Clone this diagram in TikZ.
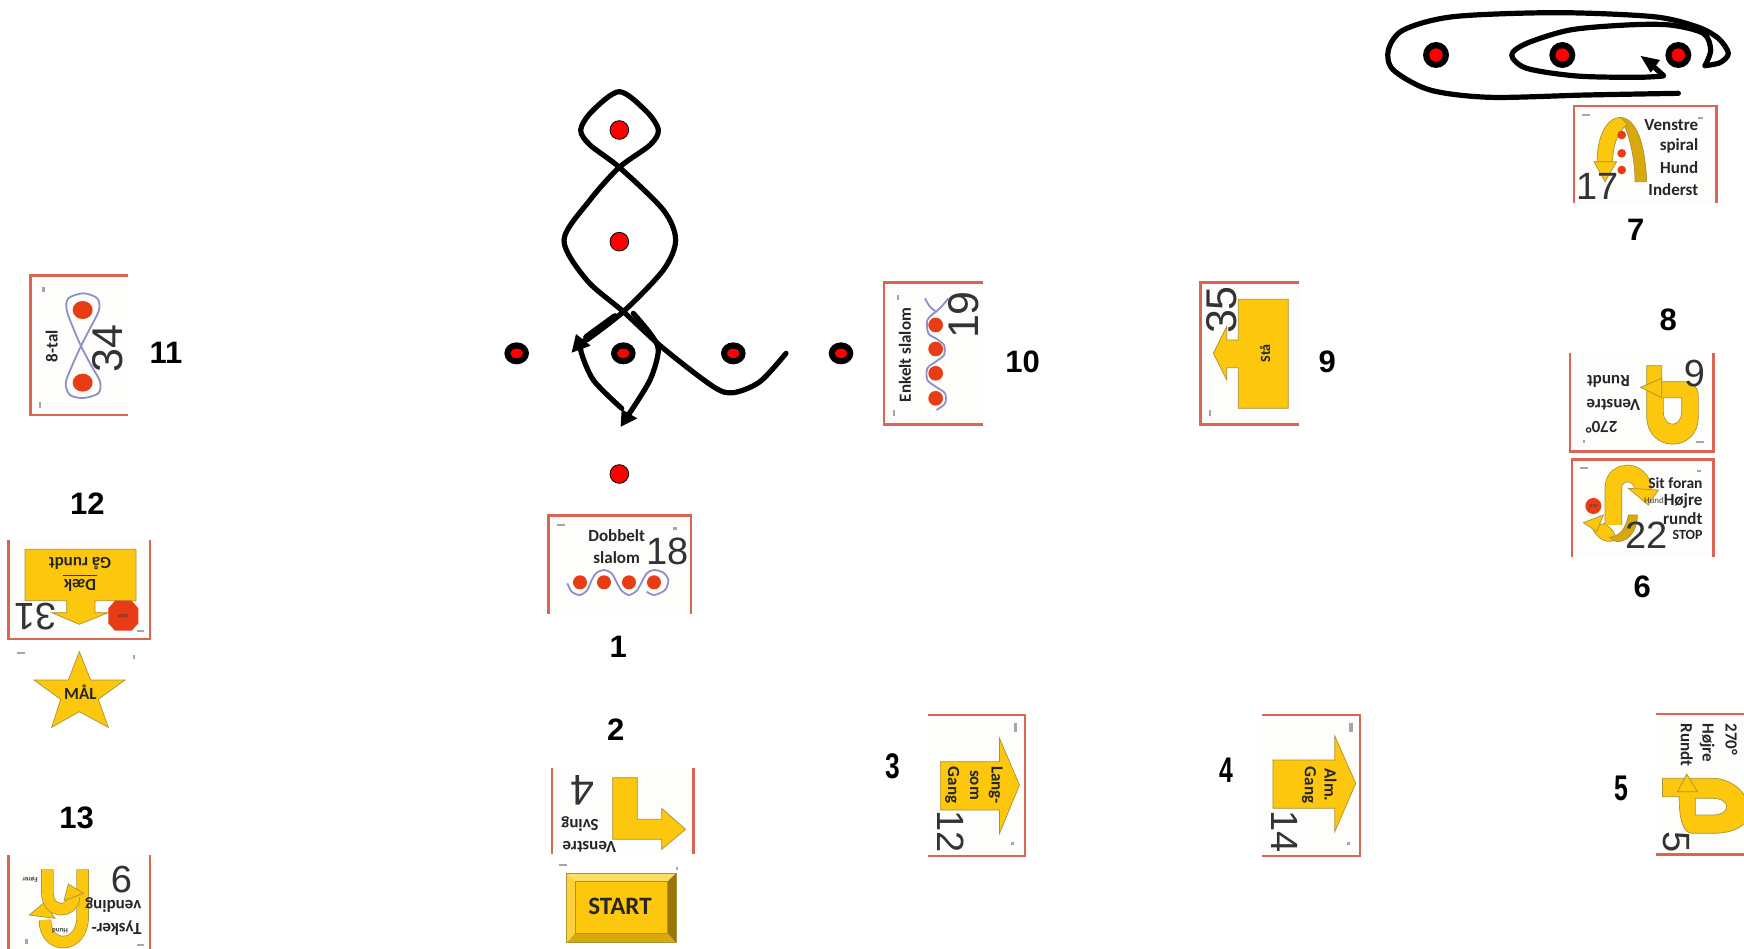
\documentclass[tikz,border=0pt]{standalone}
\usepackage{fontspec}
\setmainfont{Liberation Sans}
\newfontfamily\cardf{Carlito}
\definecolor{ycol}{HTML}{FCC70D}
\definecolor{yedge}{HTML}{A8923A}
\definecolor{ydark}{HTML}{D9A80C}
\definecolor{redb}{HTML}{DB6555}
\definecolor{bluew}{HTML}{8E90C8}
\definecolor{dotr}{HTML}{E83C14}
\definecolor{cardbg}{HTML}{FDFDFB}
\newcommand\fsz[1]{\fontsize{#1}{#1}\selectfont}
\newcommand\band[1]{\draw[bando] #1; \draw[bandf] #1;}
\newcommand\tband[1]{\draw[tbando] #1; \draw[tbandf] #1;}
\tikzset{
 x=1pt,y=-1pt,
 z1/.style={shift={(1370,0)},scale=1/3},
 z2/.style={shift={(1550,300)},scale=1/3},
 z3/.style={shift={(490,80)},scale=1/3},
 z4/.style={shift={(530,500)},scale=1/3},
 z5/.style={shift={(0,260)},scale=1/3},
 z6/.style={shift={(0,480)},scale=1/3},
 z7/.style={shift={(870,270)},scale=1/3},
 z8/.style={shift={(900,700)},xscale=1/1.858,yscale=1/3},
 card/.style={fill=cardbg},
 bord/.style={draw=redb,line width=2.6pt},
 yshape/.style={fill=ycol,draw=yedge,line width=.7pt,line join=miter},
 bando/.style={draw=yedge,line width=17.5pt},
 bandf/.style={draw=ycol,line width=16pt},
 tbando/.style={draw=yedge,line width=12.5pt},
 tbandf/.style={draw=ycol,line width=11pt},
 wave/.style={draw=bluew,line width=1.8pt},
 carddot/.style={fill=dotr},
 mk/.style={fill=gray!70},
 ctxt/.style={inner sep=0pt,text=black!85,font=\cardf\bfseries\fsz{17}},
 csmall/.style={inner sep=0pt,text=black!75,font=\cardf\bfseries\fsz{7}},
 bignum/.style={inner sep=0pt,text=black!80,font=\fsz{38}},
 bignumr/.style={inner sep=0pt,text=black!80,font=\fsz{43}},
 lab/.style={inner sep=0pt,text=black,font=\bfseries\fsz{31}},
 trail/.style={draw=black,line width=5.2pt,line join=round,line cap=round},
 tip/.style={fill=black},
 cone/.style={fill=red,draw=black,line width=.8pt},
 ring/.style={fill=black},
 ringin/.style={fill=red},
}
\begin{document}
\begin{tikzpicture}
\useasboundingbox (0,0) rectangle (1744,949);
\clip (0,0) rectangle (1744,949);
\fill[white] (0,0) rectangle (1744,949);

% ---------- spiral figure and card 17
\begin{scope}[z1]
 \draw[trail] plot[smooth] coordinates {(925,280)(650,285)(360,292)(180,270)(70,210)(55,150)(100,90)(250,50)(560,38)(850,50)(980,80)(1045,115)(1075,160)(1050,188)(1005,197)};
 \draw[trail] plot[smooth] coordinates {(1005,197)(1022,150)(1000,100)(900,75)(770,75)(600,90)(470,130)(425,165)(470,205)(620,228)(800,232)(880,228)};
 \draw[trail] (880,226) -- (845,195);
 \fill[tip] (812,168) -- (870,180) -- (842,218) -- cycle;
 \foreach \p in {198,577,925} {
  \fill[ring] (\p,165) circle[radius=39];
  \fill[ringin] (\p,165) circle[radius=20];
 }
 \fill[card] (612,318) rectangle (1040,610);
 \draw[bord] (612,610) -- (612,318) -- (1040,318) -- (1040,610);
 \fill[mk] (636,343) rectangle (660,349);
 \fill[mk] (985,352) rectangle (1000,358);
 \path[fill=ydark,draw=yedge,line width=.7pt] (795,545) -- (830,545) .. controls (825,430) and (800,355) .. (750,352) .. controls (775,390) and (795,470) .. (795,545) -- cycle;
 \path[yshape] (750,352) .. controls (705,355) and (680,420) .. (682,485) -- (728,485) .. controls (728,440) and (740,400) .. (772,372) -- cycle;
 \path[yshape] (672,485) -- (740,485) -- (705,545) -- cycle;
 \foreach \p in {405,460,510} \fill[carddot] (755,\p) circle[radius=13];
 \node[ctxt,anchor=east] (v7a) at (985,375) {Venstre};
 \node[ctxt,anchor=east] (v7b) at (985,438) {spiral};
 \node[ctxt,anchor=east] (v7c) at (985,503) {Hund};
 \node[ctxt,anchor=east] (v7d) at (985,568) {Inderst};
 \node[bignum] (n17) at (682,558) {17};
 \node[lab] (l7) at (797,690) {7};
\end{scope}

% ---------- cards 9 and 22
\begin{scope}[z2]
 \node[lab] (l8) at (355,60) {8};
 \fill[card] (60,158) rectangle (490,455);
 \draw[bord] (60,158) -- (60,455) -- (490,455) -- (490,158);
 \fill[mk] (438,422) rectangle (462,428);
 \fill[mk] (100,420) rectangle (106,430);
 \path[yshape] (290,197) -- (290,350) .. controls (292,460) and (445,460) .. (445,350) -- (445,290) .. controls (445,255) and (420,245) .. (400,245) -- (335,245) -- (335,197) -- cycle;
 \path[fill=cardbg,draw=yedge,line width=.7pt] (340,293) -- (395,293) -- (395,335) .. controls (395,385) and (340,385) .. (340,335) -- cycle;
 \path[yshape] (335,235) -- (272,262) -- (335,293) -- cycle;
 \node[ctxt,rotate=180] (v8a) at (175,245) {Rundt};
 \node[ctxt,rotate=180] (v8b) at (190,315) {Venstre};
 \node[ctxt,rotate=180] (v8c) at (155,382) {270°};
 \node[bignum,rotate=180] (n6u) at (435,220) {6};

 \fill[card] (66,478) rectangle (490,772);
 \draw[bord] (66,772) -- (66,478) -- (490,478) -- (490,772);
 \fill[mk] (90,500) rectangle (114,506);
 \fill[mk] (440,510) rectangle (454,516);
 \path[yshape] (125,680) .. controls (140,715) and (165,730) .. (190,722) .. controls (205,700) and (185,690) .. (165,670) -- cycle;
 \path[fill=ydark,draw=yedge,line width=.7pt] (178,712) .. controls (205,710) and (228,690) .. (235,645) -- (262,645) .. controls (262,700) and (225,735) .. (190,722) -- cycle;
 \path[yshape] (100,668) -- (160,645) -- (140,695) -- cycle;
 \band{(190,675) -- (190,565) .. controls (190,505) and (275,505) .. (280,570)}
 \path[yshape] (235,565) -- (325,570) -- (295,615) -- cycle;
 \fill[dotr] (130,618) circle[radius=24];
 \node[csmall,font=\cardf\bfseries\fsz{4}] (v6s) at (130,618) {STOP};
 \node[ctxt,anchor=east,font=\cardf\bfseries\fsz{15.5}] (v6a) at (458,548) {Sit foran};
 \node[csmall,font=\cardf\fsz{9}] (v6b) at (312,602) {Hund};
 \node[ctxt,anchor=east] (v6c) at (458,602) {Højre};
 \node[ctxt,anchor=east] (v6d) at (458,655) {rundt};
 \node[ctxt,anchor=east,font=\cardf\bfseries\fsz{14}] (v6e) at (458,705) {STOP};
 \node[bignum] (n22) at (290,705) {22};
 \node[lab] (l6) at (277,860) {6};
\end{scope}

% ---------- slalom figure
\begin{scope}[z3]
 \draw[trail] plot[smooth] coordinates {(888,820)(810,905)(730,938)(670,920)(520,805)(400,695)(290,600)(222,480)(300,360)(388,262)(480,195)(505,150)(470,95)(388,35)(305,95)(272,150)(300,195)(388,262)(520,390)(557,480)(520,570)(400,695)(290,780)};
 \draw[draw=black,line width=7pt,line cap=round] (375,710) -- (290,772);
 \fill[tip] (245,818) -- (258,762) -- (302,797) -- cycle;
 \draw[trail] plot[smooth] coordinates {(430,700)(480,760)(505,810)(480,900)(415,1005)};
 \fill[tip] (392,1040) -- (395,988) -- (442,1015) -- cycle;
 \draw[trail] plot[smooth] coordinates {(395,985)(310,900)(272,810)(285,780)};
 \foreach \p in {150,485,1182} \path[cone] (388,\p) circle[radius=28];
 \foreach \p in {80,400,730,1053} {
  \fill[ring] (\p,820) ellipse[x radius=37,y radius=33];
  \fill[ringin] (\p,820) ellipse[x radius=19,y radius=14];
 }
\end{scope}

% ---------- cards 18, 4, START
\begin{scope}[z4]
 \fill[card] (55,47) rectangle (483,342);
 \draw[bord] (55,342) -- (55,47) -- (483,47) -- (483,342);
 \fill[mk] (80,73) rectangle (104,79);
 \fill[mk] (428,82) rectangle (442,90);
 \draw[wave] plot[smooth] coordinates {(112,250)(125,275)(150,285)(172,270)(185,240)(200,218)(222,210)(245,220)(260,247)(275,272)(297,285)(320,272)(335,247)(350,220)(372,210)(400,218)(415,240)(405,270)(372,285)(350,275)};
 \foreach \p in {150,222,297,372} \fill[carddot] (\p,247) circle[radius=21];
 \node[ctxt] (v1a) at (260,108) {Dobbelt};
 \node[ctxt] (v1b) at (260,172) {slalom};
 \node[bignum] (n18) at (412,155) {18};
 \node[lab] (l1) at (265,440) {1};
 \node[lab] (l2) at (257,690) {2};

 \fill[card] (66,805) rectangle (490,1062);
 \draw[bord] (66,805) -- (66,1062);
 \draw[bord] (490,805) -- (490,1062);
 \path[yshape] (248,833) -- (322,833) -- (322,958) -- (395,958) -- (395,925) -- (467,988) -- (395,1048) -- (395,1018) -- (248,1018) -- cycle;
 \node[bignumr,rotate=180] (n4) at (158,872) {4};
 \node[ctxt,rotate=180] (v2a) at (150,972) {Sving};
 \node[ctxt,rotate=180] (v2b) at (178,1040) {Venstre};

 \fill[mk] (88,1092) rectangle (110,1098);
 \fill[mk] (438,1100) rectangle (444,1110);
 \fill[fill=ycol!70!white!90] (110,1120) -- (438,1120) -- (412,1145) -- (135,1145) -- cycle;
 \fill[fill=ycol!80!white] (110,1120) -- (135,1145) -- (135,1300) -- (110,1328) -- cycle;
 \fill[fill=ydark!70!black] (438,1120) -- (412,1145) -- (412,1300) -- (438,1328) -- cycle;
 \fill[fill=ydark] (110,1328) -- (135,1300) -- (412,1300) -- (438,1328) -- cycle;
 \path[yshape] (135,1145) rectangle (412,1300);
 \draw[yedge,line width=.8pt] (110,1120) rectangle (438,1328);
 \node[inner sep=0pt,text=black!85,font=\cardf\bfseries\fsz{25}] (vst) at (270,1220) {START};
\end{scope}

% ---------- card 34
\begin{scope}[z5]
 \fill[card] (92,46) rectangle (385,465);
 \draw[bord] (385,46) -- (92,46) -- (92,465) -- (385,465);
 \fill[mk] (126,82) rectangle (134,96);
 \fill[mk] (118,425) rectangle (124,445);
 \draw[wave] plot[smooth cycle] coordinates {(243,258)(220,205)(200,150)(205,115)(250,100)(292,115)(297,150)(270,205)(243,258)(215,320)(197,370)(210,405)(250,414)(295,400)(300,365)(270,310)};
 \foreach \p in {150,368} \fill[carddot] (248,\p) ellipse[x radius=30,y radius=27];
 \node[ctxt,rotate=90] (v11) at (155,258) {8-tal};
 \node[bignumr,rotate=90] (n34) at (322,265) {34};
 \node[lab] (l11) at (498,280) {11};
\end{scope}

% ---------- cards 31, star, 9
\begin{scope}[z6]
 \node[lab] (l12) at (262,70) {12};
 \fill[card] (26,180) rectangle (450,477);
 \draw[bord] (26,180) -- (26,477) -- (450,477) -- (450,180);
 \fill[mk] (410,450) rectangle (432,456);
 \path[yshape] (75,208) -- (408,208) -- (408,362) -- (285,362) -- (285,398) -- (325,398) -- (238,433) -- (155,398) -- (200,398) -- (200,362) -- (75,362) -- cycle;
 \node[ctxt,rotate=180] (v12a) at (240,250) {Gå rundt};
 \node[ctxt,rotate=180] (v12b) at (240,315) {Dæk};
 \draw[black!80,line width=1pt] (190,287) -- (292,287);
 \path[fill=dotr] (345,362) -- (395,362) -- (415,385) -- (415,430) -- (395,452) -- (345,452) -- (325,430) -- (325,385) -- cycle;
 \node[csmall,rotate=180,font=\cardf\bfseries\fsz{5}] (v12s) at (370,407) {STOP};
 \node[bignum,rotate=180] (n31) at (105,410) {31};

 \fill[mk] (52,515) rectangle (76,521);
 \fill[mk] (400,525) rectangle (406,537);
 \path[yshape] (238,515) -- (272,600) -- (375,600) -- (295,658) -- (325,742) -- (238,695) -- (155,742) -- (182,658) -- (102,600) -- (205,600) -- cycle;
 \node[ctxt,font=\cardf\bfseries\fsz{17}] (vm) at (241,638) {MÅL};
 \node[lab] (l13) at (230,1015) {13};

 \fill[card] (26,1125) rectangle (450,1420);
 \draw[bord] (26,1125) -- (26,1420);
 \draw[bord] (450,1125) -- (450,1420);
 \fill[mk] (410,1392) rectangle (432,1398);
 \fill[mk] (76,1378) rectangle (84,1392);
 \tband{(248,1168) -- (248,1310) .. controls (248,1410) and (135,1410) .. (135,1320)}
 \path[yshape] (88,1305) -- (132,1268) -- (165,1315) -- cycle;
 \tband{(142,1168) -- (142,1235) .. controls (142,1305) and (220,1300) .. (222,1250)}
 \path[yshape] (250,1240) -- (205,1212) -- (192,1262) -- cycle;
 \node[csmall,rotate=180] (v13c) at (90,1200) {Fører};
 \node[csmall,rotate=180] (v13d) at (180,1352) {Hund};
 \node[bignum,rotate=180] (n9) at (365,1200) {9};
 \node[ctxt,rotate=180] (v13a) at (340,1275) {vending};
 \node[ctxt,rotate=180] (v13b) at (350,1345) {Tysker-};
\end{scope}

% ---------- cards 19, 35
\begin{scope}[z7]
 \fill[card] (42,38) rectangle (338,463);
 \draw[bord] (338,38) -- (42,38) -- (42,463) -- (338,463);
 \fill[mk] (70,420) rectangle (76,438);
 \fill[mk] (80,75) rectangle (86,90);
 \draw[wave] (165,85) .. controls (178,110) .. (198,125) .. controls (215,110) .. (235,85);
 \draw[wave] plot[smooth] coordinates {(198,125)(172,150)(175,190)(197,205)(222,225)(222,255)(197,275)(172,295)(172,330)(197,350)(225,370)(225,400)(200,420)};
 \foreach \p in {165,237,310,385} \fill[carddot] (197,\p) circle[radius=22];
 \node[ctxt,rotate=90] (v10) at (105,255) {Enkelt slalom};
 \node[bignumr,rotate=90] (n19) at (280,135) {19};
 \node[lab] (l10) at (458,275) {10};

 \fill[card] (992,38) rectangle (1288,463);
 \draw[bord] (1288,38) -- (992,38) -- (992,463) -- (1288,463);
 \fill[mk] (1018,420) rectangle (1024,438);
 \path[yshape] (1105,88) -- (1255,88) -- (1255,415) -- (1105,415) -- (1105,293) -- (1070,293) -- (1070,330) -- (1030,250) -- (1070,170) -- (1070,210) -- (1105,210) -- cycle;
 \node[ctxt,rotate=90,font=\cardf\bfseries\fsz{14}] (v9) at (1185,250) {Stå};
 \node[bignumr,rotate=90] (n35) at (1056,120) {35};
 \node[lab] (l9) at (1372,275) {9};
\end{scope}

% ---------- cards 12, 14, 5
\begin{scope}[z8]
 \fill[card] (52,45) rectangle (232,468);
 \draw[bord] (52,45) -- (232,45) -- (232,468) -- (52,468);
 \fill[mk] (212,70) rectangle (218,95);
 \fill[mk] (206,425) rectangle (212,435);
 \path[yshape] (75,185) -- (185,185) -- (185,115) -- (222,255) -- (185,400) -- (185,330) -- (75,330) -- cycle;
 \node[ctxt,rotate=-90] (v3a) at (178,255) {Lang-};
 \node[ctxt,rotate=-90] (v3b) at (138,255) {som};
 \node[ctxt,rotate=-90] (v3c) at (97,255) {Gang};
 \node[bignum,rotate=-90] (n12) at (95,395) {12};

 \fill[card] (673,45) rectangle (855,468);
 \draw[bord] (673,45) -- (855,45) -- (855,468) -- (673,468);
 \fill[mk] (835,70) rectangle (841,95);
 \fill[mk] (830,425) rectangle (836,435);
 \path[yshape] (693,180) -- (808,180) -- (808,108) -- (847,250) -- (808,395) -- (808,325) -- (693,325) -- cycle;
 \node[ctxt,rotate=-90] (v4a) at (800,255) {Alm.};
 \node[ctxt,rotate=-90] (v4b) at (760,255) {Gang};
 \node[bignum,rotate=-90] (n14) at (715,395) {14};

 \fill[card] (1405,42) rectangle (1568,468);
 \draw[bord] (1405,42) -- (1568,42);
 \draw[bord] (1405,463) -- (1568,463);
 \path[yshape] (1417,235) -- (1510,235) .. controls (1580,235) and (1620,400) .. (1510,400) -- (1470,400) .. controls (1455,395) and (1448,360) .. (1448,290) -- (1417,290) -- cycle;
 \path[fill=cardbg,draw=yedge,line width=.7pt] (1478,295) -- (1510,295) .. controls (1545,295) and (1545,345) .. (1510,345) -- (1478,345) -- cycle;
 \path[yshape] (1445,275) -- (1462,222) -- (1482,275) -- cycle;
 \node[ctxt,anchor=west,rotate=-90] (v5a) at (1545,70) {270°};
 \node[ctxt,anchor=west,rotate=-90] (v5b) at (1500,70) {Højre};
 \node[ctxt,anchor=west,rotate=-90] (v5c) at (1462,70) {Rundt};
 \node[bignum,rotate=-90] (n5) at (1442,425) {5};
\end{scope}
\node[lab,xscale=.85,yscale=1.15] (l3) at (893,766) {3};
\node[lab,xscale=.8,yscale=1.15] (l4) at (1226,770) {4};
\node[lab,xscale=.8,yscale=1.15] (l5) at (1621,788) {5};
\end{tikzpicture}
\end{document}
